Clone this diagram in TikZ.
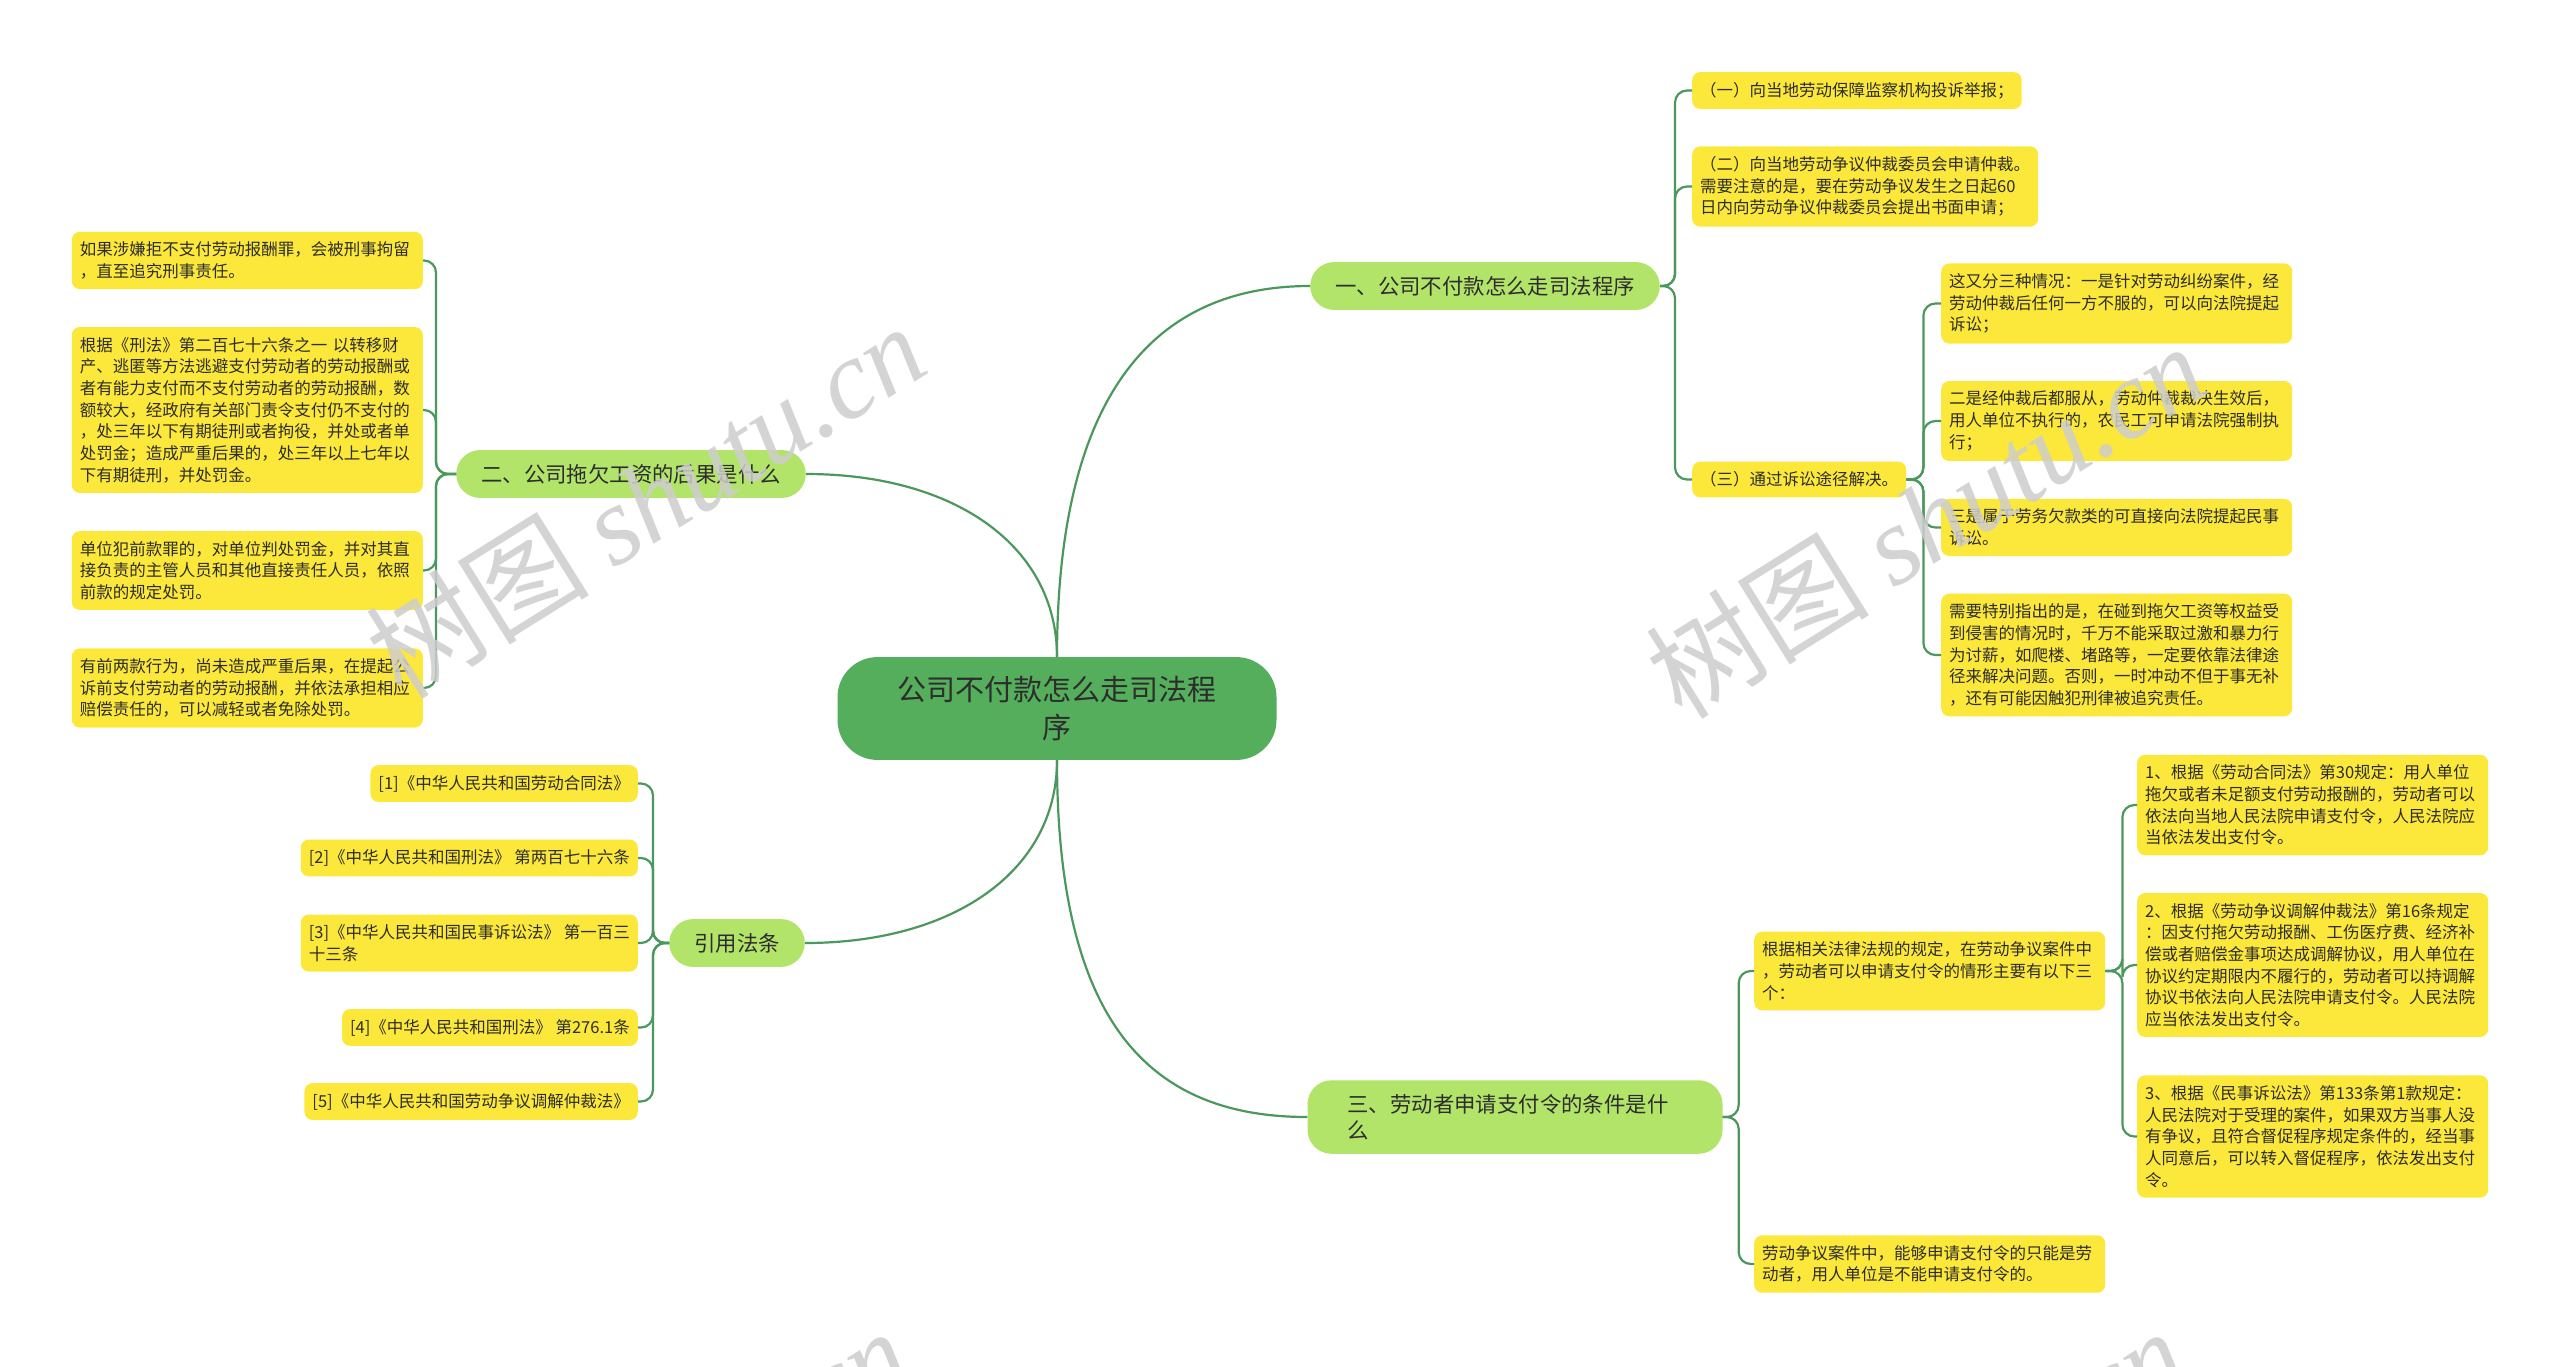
\documentclass[tikz,border=0pt]{standalone}
\usepackage{fontspec}
\setmainfont{Noto Sans CJK SC}
\newfontfamily\wmfont{Liberation Serif}

\definecolor{rootgreen}{RGB}{85,174,91}
\definecolor{branchgreen}{RGB}{179,228,106}
\definecolor{leafyellow}{RGB}{252,232,58}
\definecolor{linkgreen}{RGB}{74,152,92}
\definecolor{textdark}{RGB}{45,45,45}
\definecolor{wmgray}{RGB}{205,205,205}

\begin{document}
\begin{tikzpicture}[
    x=1pt, y=-1pt,
    root/.style={
        fill=rootgreen, rounded corners=40pt,
        inner xsep=60pt, inner ysep=19pt,
        align=center, text=textdark,
        font=\fontsize{29}{38}\selectfont
    },
    branch/.style={
        fill=branchgreen, rounded corners=24pt,
        inner xsep=25pt, inner ysep=14pt,
        align=left, text=textdark,
        font=\fontsize{21.4}{26}\selectfont
    },
    leaf/.style={
        fill=leafyellow, rounded corners=8pt,
        inner xsep=8pt, inner ysep=10pt,
        align=left, text=textdark,
        font=\fontsize{16.5}{21.7}\selectfont
    },
    wide/.style={text width=335pt},
    link/.style={draw=linkgreen, line width=2.2pt},
    fork/.style={link, rounded corners=12pt},
    watermark/.style={text=wmgray, text opacity=0.85, rotate=32,
        font=\fontsize{112}{112}\selectfont}
]
\useasboundingbox (0,0) rectangle (2560,1366);
\clip (0,0) rectangle (2560,1366);
\fill[white] (0,0) rectangle (2560,1366);

% centre and branches
\node[root] (root) at (1057,708.5) {公司不付款怎么走司法程\\序};
\node[branch] (proc) at (1485,286) {一、公司不付款怎么走司法程序};
\node[branch] (cons) at (631,474) {二、公司拖欠工资的后果是什么};
\node[branch] (refs) at (737,943) {引用法条};
\node[branch, text width=335pt, inner xsep=40pt] (cond) at (1515,1117)
    {三、劳动者申请支付令的条件是什\\么};

% branch one
\node[leaf, anchor=west] (proc1) at (1692,90.5) {（一）向当地劳动保障监察机构投诉举报；};
\node[leaf, anchor=west] (proc2) at (1692,186.5) {（二）向当地劳动争议仲裁委员会申请仲裁。\\需要注意的是，要在劳动争议发生之日起60\\日内向劳动争议仲裁委员会提出书面申请；};
\node[leaf, anchor=west] (proc3) at (1692,479.5) {（三）通过诉讼途径解决。};
\node[leaf, wide, anchor=west] (suit1) at (1941,303.5) {这又分三种情况：一是针对劳动纠纷案件，经\\劳动仲裁后任何一方不服的，可以向法院提起\\诉讼；};
\node[leaf, wide, anchor=west] (suit2) at (1941,421) {二是经仲裁后都服从，劳动仲裁裁决生效后，\\用人单位不执行的，农民工可申请法院强制执\\行；};
\node[leaf, wide, anchor=west] (suit3) at (1941,527.5) {三是属于劳务欠款类的可直接向法院提起民事\\诉讼。};
\node[leaf, wide, anchor=west] (suit4) at (1941,655) {需要特别指出的是，在碰到拖欠工资等权益受\\到侵害的情况时，千万不能采取过激和暴力行\\为讨薪，如爬楼、堵路等，一定要依靠法律途\\径来解决问题。否则，一时冲动不但于事无补\\，还有可能因触犯刑律被追究责任。};

% branch three
\node[leaf, wide, anchor=west] (cond1) at (1754,971) {根据相关法律法规的规定，在劳动争议案件中\\，劳动者可以申请支付令的情形主要有以下三\\个：};
\node[leaf, wide, anchor=west] (cond2) at (1754,1264) {劳动争议案件中，能够申请支付令的只能是劳\\动者，用人单位是不能申请支付令的。};
\node[leaf, wide, anchor=west] (rule1) at (2137,805) {1、根据《劳动合同法》第30规定：用人单位\\拖欠或者未足额支付劳动报酬的，劳动者可以\\依法向当地人民法院申请支付令，人民法院应\\当依法发出支付令。};
\node[leaf, wide, anchor=west] (rule2) at (2137,965) {2、根据《劳动争议调解仲裁法》第16条规定\\：因支付拖欠劳动报酬、工伤医疗费、经济补\\偿或者赔偿金事项达成调解协议，用人单位在\\协议约定期限内不履行的，劳动者可以持调解\\协议书依法向人民法院申请支付令。人民法院\\应当依法发出支付令。};
\node[leaf, wide, anchor=west] (rule3) at (2137,1136.5) {3、根据《民事诉讼法》第133条第1款规定：\\人民法院对于受理的案件，如果双方当事人没\\有争议，且符合督促程序规定条件的，经当事\\人同意后，可以转入督促程序，依法发出支付\\令。};

% branch two
\node[leaf, wide, anchor=east] (cons1) at (423,260.5) {如果涉嫌拒不支付劳动报酬罪，会被刑事拘留\\，直至追究刑事责任。};
\node[leaf, wide, anchor=east] (cons2) at (423,410) {根据《刑法》第二百七十六条之一 以转移财\\产、逃匿等方法逃避支付劳动者的劳动报酬或\\者有能力支付而不支付劳动者的劳动报酬，数\\额较大，经政府有关部门责令支付仍不支付的\\，处三年以下有期徒刑或者拘役，并处或者单\\处罚金；造成严重后果的，处三年以上七年以\\下有期徒刑，并处罚金。};
\node[leaf, wide, anchor=east] (cons3) at (423,570.5) {单位犯前款罪的，对单位判处罚金，并对其直\\接负责的主管人员和其他直接责任人员，依照\\前款的规定处罚。};
\node[leaf, wide, anchor=east] (cons4) at (423,688) {有前两款行为，尚未造成严重后果，在提起公\\诉前支付劳动者的劳动报酬，并依法承担相应\\赔偿责任的，可以减轻或者免除处罚。};

% references
\node[leaf, anchor=east] (ref1) at (638,783.5) {[1]《中华人民共和国劳动合同法》};
\node[leaf, anchor=east] (ref2) at (638,858) {[2]《中华人民共和国刑法》 第两百七十六条};
\node[leaf, anchor=east] (ref3) at (638,943) {[3]《中华人民共和国民事诉讼法》 第一百三\\十三条};
\node[leaf, anchor=east] (ref4) at (638,1027.5) {[4]《中华人民共和国刑法》 第276.1条};
\node[leaf, anchor=east] (ref5) at (638,1101.5) {[5]《中华人民共和国劳动争议调解仲裁法》};

% connectors
\draw[link] (root.north) .. controls +(0,-257) and +(-160,0) .. (proc.west);
\draw[link] (root.north) .. controls +(0,-110) and +(150,0) .. (cons.east);
\draw[link] (root.south) .. controls +(0,110) and +(150,0) .. (refs.east);
\draw[link] (root.south) .. controls +(0,260) and +(-160,0) .. (cond.west);

\foreach \n in {proc1,proc2,proc3}
    \draw[fork] (proc.east) -- ++(15,0) |- (\n.west);
\foreach \n in {suit1,suit2,suit3,suit4}
    \draw[fork] (proc3.east) -- ++(17,0) |- (\n.west);
\foreach \n in {cond1,cond2}
    \draw[fork] (cond.east) -- ++(16,0) |- (\n.west);
\foreach \n in {rule1,rule2,rule3}
    \draw[fork] (cond1.east) -- ++(17,0) |- (\n.west);
\foreach \n in {cons1,cons2,cons3,cons4}
    \draw[fork] (cons.west) -- ++(-20,0) |- (\n.east);
\foreach \n in {ref1,ref2,ref3,ref4,ref5}
    \draw[fork] (refs.west) -- ++(-16,0) |- (\n.east);

% watermarks
\node[watermark] (wm1) at (645,500) {树图 {\wmfont\itshape shutu.cn}};
\node[watermark] (wm2) at (1925,520) {树图 {\wmfont\itshape shutu.cn}};
\node[watermark] (wm3) at (629,1505) {树图 {\wmfont\itshape shutu.cn}};
\node[watermark] (wm4) at (1905,1505) {树图 {\wmfont\itshape shutu.cn}};
\end{tikzpicture}
\end{document}
